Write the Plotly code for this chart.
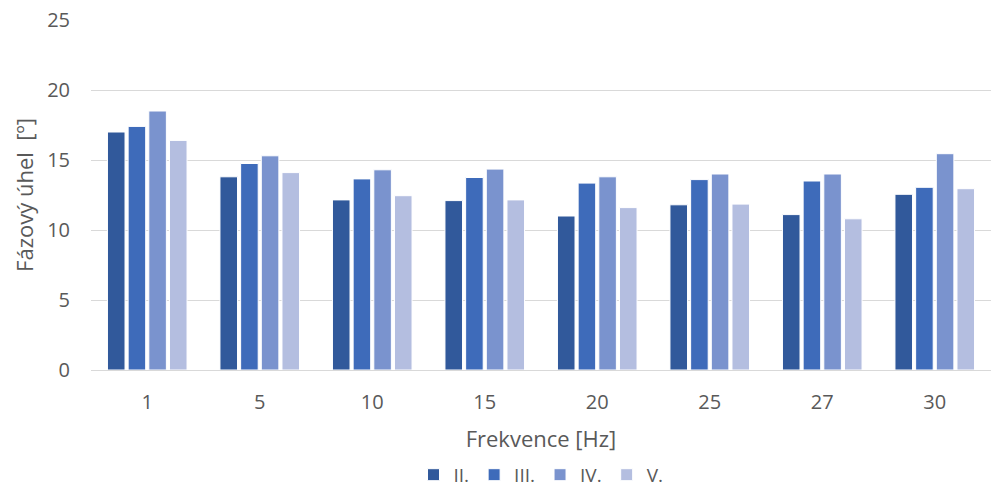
import plotly.graph_objects as go

frequencies = ["1", "5", "10", "15", "20", "25", "27", "30"]
series_names = ["II.", "III.", "IV.", "V."]
values_ii = [17.0, 13.8, 12.15, 12.1, 11.0, 11.8, 11.1, 12.55]
values_iii = [17.4, 14.75, 13.65, 13.75, 13.35, 13.6, 13.5, 13.05]
values_iv = [18.5, 15.3, 14.3, 14.35, 13.8, 14.0, 14.0, 15.45]
values_v = [16.4, 14.1, 12.45, 12.15, 11.6, 11.85, 10.8, 12.95]
colors = ["#31599B", "#3E6BBA", "#7A93CE", "#B4BEE0"]

y_ticks = [0, 5, 10, 15, 20, 25]

font_family = "Open Sans, sans-serif"
text_color = "#595959"

fig = go.Figure()
for name, vals, col in zip(series_names, [values_ii, values_iii, values_iv, values_v], colors):
    fig.add_trace(go.Bar(
        x=frequencies, y=vals, name=name,
        marker=dict(color=col, line=dict(color="white", width=1)),
    ))

fig.update_layout(
    width=997, height=488,
    margin=dict(l=91, r=6, t=20, b=118),
    paper_bgcolor="white", plot_bgcolor="white",
    barmode="group", bargap=0.265, bargroupgap=0.15,
    font=dict(family=font_family, size=20, color=text_color),
    xaxis=dict(
        type="category", automargin=False,
        showgrid=False,
        showline=True, linecolor="#D9D9D9", linewidth=1,
        ticks="", ticklabelstandoff=14,
        tickfont=dict(size=20, color=text_color),
        title=dict(text="Frekvence [Hz]", font=dict(size=22, color=text_color), standoff=17),
    ),
    yaxis=dict(
        range=[0, 25], tickvals=y_ticks, automargin=False,
        showgrid=True, gridcolor="#D9D9D9", gridwidth=1,
        zeroline=False, showline=False,
        ticks="", ticklabelstandoff=20,
        tickfont=dict(size=20, color=text_color),
        title=dict(text="Fázový úhel  [º]", font=dict(size=22, color=text_color), standoff=7),
    ),
    legend=dict(
        orientation="h", x=0.5, xanchor="center",
        yref="container", y=0.027, yanchor="middle",
        font=dict(size=19, color=text_color),
        itemwidth=30, traceorder="normal",
    ),
)

fig.write_html("out.html")
